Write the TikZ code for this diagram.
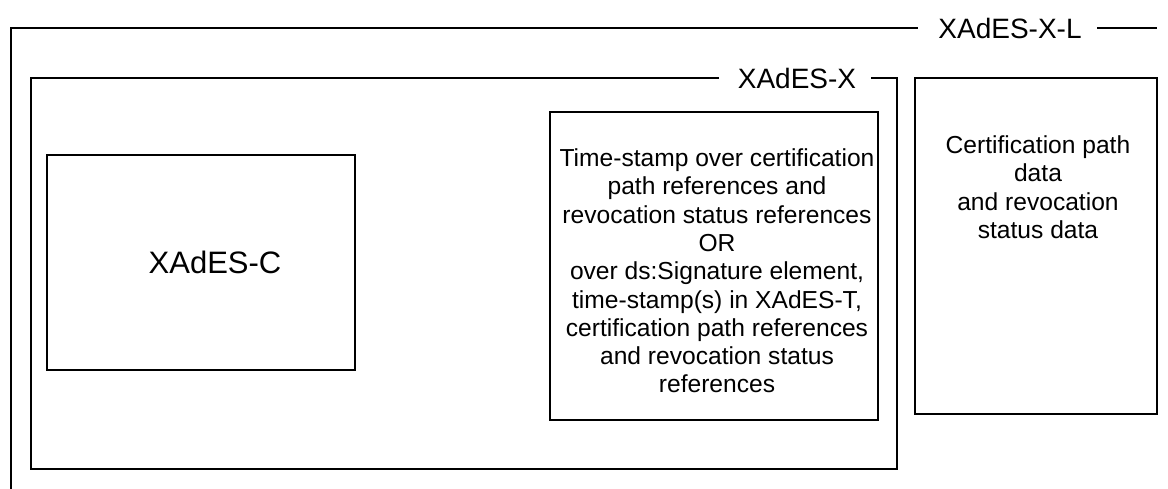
\documentclass[tikz,border=0pt]{standalone}
\usepackage{fontspec}
\setmainfont{Liberation Sans}
\begin{document}
\begin{tikzpicture}[x=1pt, y=-1pt, line width=1.5pt,
    rahmen/.style={draw, line width=1.5pt},
    titel/.style={font=\fontsize{28}{32}\selectfont, inner sep=0pt},
    inhalt/.style={font=\fontsize{24.6}{28.3}\selectfont, align=center, inner sep=0pt}]

        \useasboundingbox (0,0) rectangle (1168,489);

        % XAdES-X-L (aussen, unten offen)
        \node [titel] (xl) at (1010,28) {XAdES-X-L};
        \coordinate (xlunten) at (11,489);
        \coordinate (xlecke) at (11,28);
        \coordinate (xlende) at (1157,28);
        \draw [rahmen] (xlunten) -- (xlecke) -- ([xshift=-20pt]xl.west |- xlecke);
        \draw [rahmen] ([xshift=15pt]xl.east |- xlecke) -- (xlende);

        % XAdES-X
        \node [titel] (x) at (797,78) {XAdES-X};
        \coordinate (xlinks) at (31,78);
        \coordinate (xrechts) at (897,78);
        \coordinate (xunten) at (897,469);
        \draw [rahmen] ([xshift=-18pt]x.west |- xlinks) -- (xlinks) -- (31,469) -- (xunten) -- (xrechts) -- ([xshift=14pt]x.east |- xrechts);

        % innere Kaesten
        \draw [rahmen] (47,155) rectangle (355,370);
        \node [titel, font=\fontsize{31}{35}\selectfont] (c) at (215,262) {XAdES-C};

        \draw [rahmen] (550,112) rectangle (878,420);
        \node [inhalt] (zeitstempel) at (717,271) {Time-stamp over certification\\
            path references and\\
            revocation status references\\
            OR\\
            over ds:Signature element,\\
            time-stamp(s) in XAdES-T,\\
            certification path references\\
            and revocation status\\
            references};

        \draw [rahmen] (915,78) rectangle (1157,414);
        \node [inhalt, anchor=north] (daten) at (1038,135) {Certification path\\
            data\\
            and revocation\\
            status data};

\end{tikzpicture}
\end{document}
